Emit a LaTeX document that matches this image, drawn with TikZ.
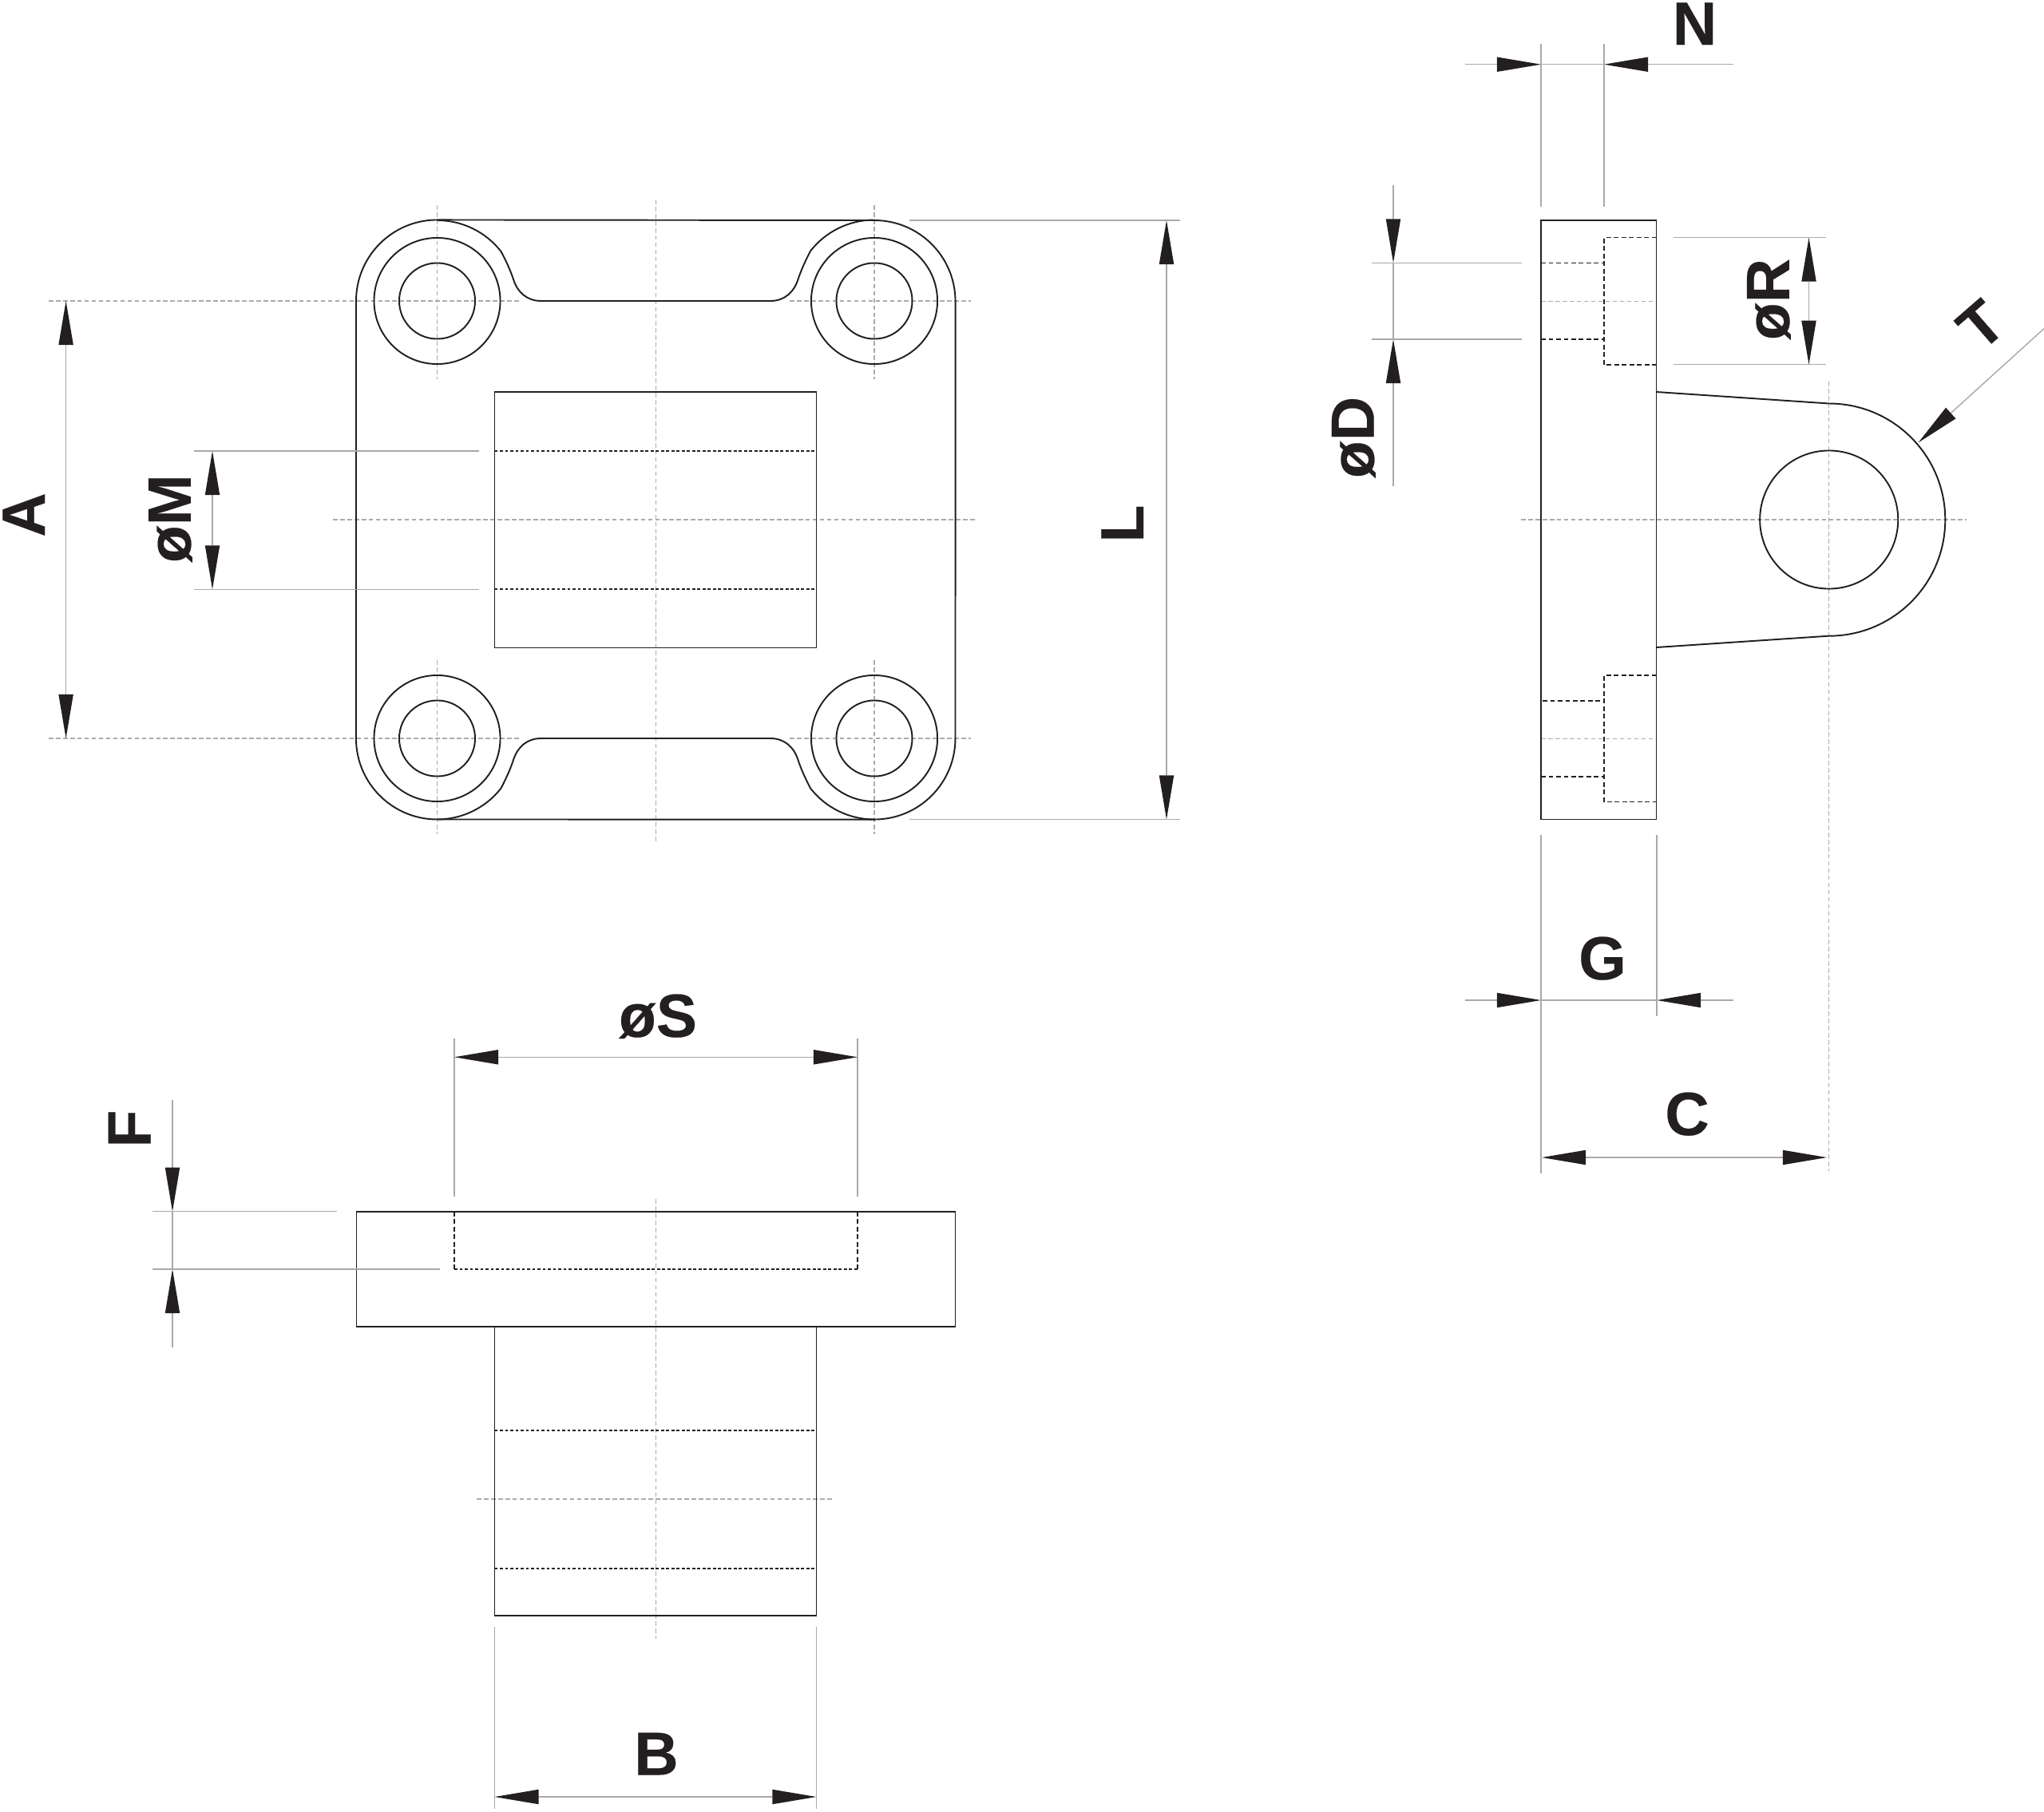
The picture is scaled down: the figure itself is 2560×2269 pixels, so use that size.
\documentclass[tikz,border=0pt]{standalone}
\usepackage{fontspec}
\setmainfont[BoldFeatures={FakeBold=0.25}]{Liberation Sans}
\usetikzlibrary{arrows.meta}
\definecolor{ink}{HTML}{231F20}
\definecolor{dimgrey}{HTML}{A9A9AB}
\definecolor{axisgrey}{HTML}{ABABAD}
\tikzset{
  x=0.01cm,y=-0.01cm,
  part/.style={draw=ink,line width=0.55pt,line join=miter},
  hiddenline/.style={draw=ink,line width=0.45pt,dash pattern=on 1.7pt off 1pt},
  hiddenfine/.style={draw=ink,line width=0.5pt,dash pattern=on 1.1pt off 0.75pt},
  axisline/.style={draw=axisgrey,line width=0.3pt,dash pattern=on 1.6pt off 0.95pt},
  extline/.style={draw=dimgrey,line width=0.42pt},
  dimline/.style={draw=dimgrey,line width=0.42pt},
  tiptri/.tip={Triangle[length=0.55cm,width=0.185cm,color=ink,line width=0pt]},
  dimboth/.style={dimline,tiptri-tiptri},
  dimend/.style={dimline,-tiptri},
  lab/.style={inner sep=0pt,text=ink,font=\fontsize{21.8}{26}\selectfont\bfseries,anchor=base},
}
\begin{document}
\begin{tikzpicture}
\path[use as bounding box] (0,0) rectangle (2560,2269);

% ---------- axes, top view ----------
\draw[axisline] (821.5,250) -- (821.5,1056);
\draw[axisline] (547.5,257) -- (547.5,475);
\draw[axisline] (1095,257) -- (1095,475);
\draw[axisline] (547.5,827) -- (547.5,1045);
\draw[axisline] (1095,827) -- (1095,1045);
\draw[axisline] (61,377) -- (652,377);
\draw[axisline] (989,377) -- (1216,377);
\draw[axisline] (61,925) -- (652,925);
\draw[axisline] (989,925) -- (1216,925);
\draw[axisline] (417,651) -- (1221,651);

% ---------- top view ----------
\draw[part] (446,377) arc[start angle=180,end angle=90,radius=1.015cm]
  -- (1095,276) arc[start angle=90,end angle=0,radius=1.015cm]
  -- (1196.5,925) arc[start angle=0,end angle=-90,radius=1.015cm]
  -- (547.5,1026.5) arc[start angle=-90,end angle=-180,radius=1.015cm] -- cycle;
\draw[part] (547.5,276) arc[start angle=90,end angle=38,radius=1.015cm]
  .. controls (636,331) and (640,341) .. (643,350)
  .. controls (648,366) and (660,377) .. (677.6,377)
  -- (964.9,377) .. controls (982.5,377) and (994.5,366) .. (999.5,350)
  .. controls (1002.5,341) and (1006.5,331) .. (1015,314.5)
  arc[start angle=142,end angle=90,radius=1.015cm];
\draw[part] (547.5,1026.5) arc[start angle=-90,end angle=-38,radius=1.015cm]
  .. controls (636,971) and (640,961) .. (643,952)
  .. controls (648,936) and (660,925) .. (677.6,925)
  -- (964.9,925) .. controls (982.5,925) and (994.5,936) .. (999.5,952)
  .. controls (1002.5,961) and (1006.5,971) .. (1015,987.5)
  arc[start angle=-142,end angle=-90,radius=1.015cm];
\foreach \hx/\hy in {547.5/377,1095/377,547.5/925,1095/925}{
  \draw[part] (\hx,\hy) circle[radius=0.79cm];
  \draw[part] (\hx,\hy) circle[radius=0.475cm];
}
\draw[part] (619.5,490.7) rectangle (1022.5,811.5);
\draw[hiddenfine] (619.5,565) -- (1022.5,565);
\draw[hiddenfine] (619.5,738.3) -- (1022.5,738.3);

% dimension A
\coordinate (Aa) at (82.6,377); \coordinate (Ab) at (82.6,925);
\draw[dimboth] (Aa) -- (Ab);
\node[lab,rotate=90] (labA) at (56,645) {A};
% dimension oM
\coordinate (Ma) at (266,565); \coordinate (Mb) at (266,738.3);
\draw[dimboth] (Ma) -- (Mb);
\draw[extline] (243,565) -- (599.5,565);
\draw[extline] (243,738.3) -- (599.5,738.3);
\node[lab,rotate=90] (labM) at (238.8,649.7) {øM};
% dimension L
\coordinate (La) at (1461,276); \coordinate (Lb) at (1461,1026.5);
\draw[dimboth] (La) -- (Lb);
\draw[extline] (1139,276) -- (1478,276);
\draw[extline] (1139,1026.5) -- (1478,1026.5);
\node[lab,rotate=90] (labL) at (1432,656) {L};

% ---------- front view ----------
\draw[axisline] (821.5,1502) -- (821.5,2053);
\draw[axisline] (597,1878) -- (1045,1878);
\draw[part] (446.5,1517.7) rectangle (1196.5,1662.3);
\draw[part] (619.5,1662.3) -- (619.5,2024) -- (1022.5,2024) -- (1022.5,1662.3);
\draw[hiddenfine] (619.5,1791.6) -- (1022.5,1791.6);
\draw[hiddenfine] (619.5,1965) -- (1022.5,1965);
\draw[hiddenline] (569,1517.7) -- (569,1590);
\draw[hiddenline] (1074,1517.7) -- (1074,1590);
\draw[hiddenfine] (569,1590) -- (1074,1590);
% dimension oS
\coordinate (Sa) at (569,1324.3); \coordinate (Sb) at (1074,1324.3);
\draw[dimboth] (Sa) -- (Sb);
\draw[extline] (569,1300.7) -- (569,1499);
\draw[extline] (1074,1300.7) -- (1074,1499);
\node[lab] (labS) at (824,1299) {øS};
% dimension F
\coordinate (Fa) at (216,1378); \coordinate (Fb) at (216,1517.7);
\coordinate (Fc) at (216,1688); \coordinate (Fd) at (216,1590);
\draw[dimend] (Fa) -- (Fb);
\draw[dimend] (Fc) -- (Fd);
\draw[dimline] (Fb) -- (Fd);
\draw[extline] (191,1517.7) -- (422,1517.7);
\draw[extline] (191,1590) -- (550.5,1590);
\node[lab,rotate=90] (labF) at (188.5,1414) {F};
% dimension B
\coordinate (Ba) at (619.5,2251); \coordinate (Bb) at (1022.5,2251);
\draw[dimboth] (Ba) -- (Bb);
\draw[extline] (619.5,2038) -- (619.5,2266);
\draw[extline] (1022.5,2038) -- (1022.5,2266);
\node[lab] (labB) at (822,2223.5) {B};

% ---------- side view ----------
\draw[axisline] (1905,651) -- (2463,651);
\draw[axisline] (2290.7,478) -- (2290.7,1467);
\draw[axisline] (1930,377.3) -- (2074.5,377.3);
\draw[axisline] (1930,925.3) -- (2074.5,925.3);
\draw[part] (1930,276) rectangle (2074.5,1026.5);
\draw[part] (2074.5,491) -- (2290.7,505.5) arc[start angle=90,end angle=-90,radius=1.455cm] -- (2074.5,811);
\draw[part] (2290.7,651) circle[radius=0.865cm];
\draw[hiddenline] (2074.5,297.7) -- (2009,297.7) -- (2009,456.7) -- (2074.5,456.7);
\draw[hiddenline] (1930,329.7) -- (2009,329.7);
\draw[hiddenline] (1930,425) -- (2009,425);
\draw[hiddenline] (2074.5,845.7) -- (2009,845.7) -- (2009,1004.5) -- (2074.5,1004.5);
\draw[hiddenline] (1932,877.8) -- (2009,877.8);
\draw[hiddenline] (1930,972.8) -- (2009,972.8);
% dimension N
\coordinate (Na) at (1835,80.7); \coordinate (Nb) at (1930,80.7);
\coordinate (Nc) at (2171,80.7); \coordinate (Nd) at (2009,80.7);
\draw[dimend] (Na) -- (Nb);
\draw[dimend] (Nc) -- (Nd);
\draw[dimline] (Nb) -- (Nd);
\draw[extline] (1930,55) -- (1930,259);
\draw[extline] (2009,55) -- (2009,259);
\node[lab] (labN) at (2122.5,56) {N};
% dimension oR
\coordinate (Ra) at (2265.5,297.7); \coordinate (Rb) at (2265.5,456.7);
\draw[dimboth] (Ra) -- (Rb);
\draw[extline] (2096,297.7) -- (2287,297.7);
\draw[extline] (2096,456.7) -- (2287,456.7);
\node[lab,rotate=90] (labR) at (2240.8,375) {øR};
% dimension oD
\coordinate (Da) at (1745,232); \coordinate (Db) at (1745,329.3);
\coordinate (Dc) at (1745,609); \coordinate (Dd) at (1745,425);
\draw[dimend] (Da) -- (Db);
\draw[dimend] (Dc) -- (Dd);
\draw[dimline] (Db) -- (Dd);
\draw[extline] (1718,329.3) -- (1906,329.3);
\draw[extline] (1718,425) -- (1906,425);
\node[lab,rotate=90] (labD) at (1720.7,548) {øD};
% dimension T
\coordinate (Ta) at (2560,411.7); \coordinate (Tb) at (2402.5,554.5);
\draw[dimline,draw=axisgrey,-tiptri] (Ta) -- (Tb);
\node[lab,anchor=center,rotate=41] (labT) at (2481,407) {T};
% dimension G
\coordinate (Ga) at (1835,1253); \coordinate (Gb) at (1930,1253);
\coordinate (Gc) at (2171,1253); \coordinate (Gd) at (2075,1253);
\draw[dimend] (Ga) -- (Gb);
\draw[dimend] (Gc) -- (Gd);
\draw[dimline] (Gb) -- (Gd);
\draw[extline] (1930,1046) -- (1930,1470);
\draw[extline] (2075,1046) -- (2075,1273);
\node[lab] (labG) at (2007,1227) {G};
% dimension C
\coordinate (Ca) at (1931,1450); \coordinate (Cb) at (2288,1450);
\draw[dimboth] (Ca) -- (Cb);
\node[lab] (labC) at (2113,1422) {C};
\end{tikzpicture}
\end{document}
